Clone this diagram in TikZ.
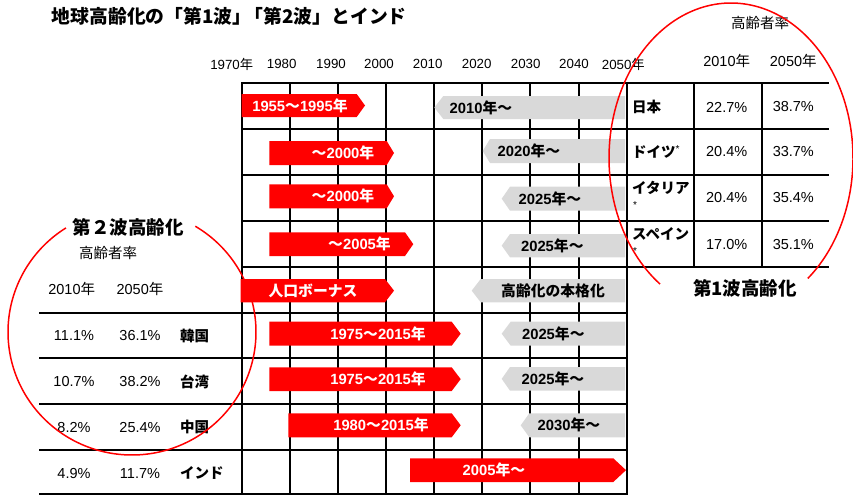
\documentclass[tikz,border=0pt]{standalone}
\usepackage{fontspec}
\setmainfont{Liberation Sans}
\newfontfamily\cjk{Noto Sans CJK JP}
\newcommand\J[1]{{\cjk #1}}
\definecolor{barGray}{HTML}{D9D9D9}
\newcommand\RB[5]{\fill[red] (#1,#4) -- (#2,#4) -- (#3,{(#4+#5)/2}) -- (#2,#5) -- (#1,#5) -- cycle;}
\newcommand\GB[5]{\fill[barGray] (#1,{(#4+#5)/2}) -- (#2,#4) -- (#3,#4) -- (#3,#5) -- (#2,#5) -- cycle;}
\begin{document}
\begin{tikzpicture}[x=1pt,y=-1pt,
  gridline/.style={line width=2pt,black,line cap=rect},
  oval/.style={red,line width=1.5pt},
  wt/.style={text=white,font=\bfseries\fontsize{14.8}{16}\selectfont,inner sep=0pt},
  bt/.style={text=black,font=\bfseries\fontsize{14.8}{16}\selectfont,inner sep=0pt},
  yr/.style={font=\fontsize{13.3}{15}\selectfont,inner sep=0pt},
  val/.style={font=\fontsize{14.5}{17}\selectfont,inner sep=0pt},
  cname/.style={font=\bfseries\fontsize{14.5}{17}\selectfont,anchor=west,inner sep=0pt},
  head/.style={font=\bfseries\fontsize{18.5}{21}\selectfont,inner sep=0pt}]
\useasboundingbox (0,0) rectangle (853,495);
% title
\node[font=\bfseries\fontsize{18.8}{22}\selectfont,inner sep=0pt,anchor=west] (title) at (51.7,16) {\J{地球高齢化の「第1波」\kern-0.35em「第2波」とインド}};
% year axis
\node[yr] (y1970) at (231.7,64) {1970\J{年}};
\node[yr] (y1980) at (281.7,64) {1980};
\node[yr] (y1990) at (331,64) {1990};
\node[yr] (y2000) at (379,64) {2000};
\node[yr] (y2010) at (427.7,64) {2010};
\node[yr] (y2020) at (476.7,64) {2020};
\node[yr] (y2030) at (525.7,64) {2030};
\node[yr] (y2040) at (574,64) {2040};
\node[yr] (y2050) at (623.3,64) {2050\J{年}};
% grid
\foreach \k in {0,...,8} \draw[gridline] ({241.7+48.125*\k},83) -- ({241.7+48.125*\k},494);
\foreach \y in {83,129,175,221,267,312.5,358,404,450,494} \draw[gridline] (241.7,\y) -- (626.7,\y);
% right table
\foreach \y in {83,129,175,221,267} \draw[gridline] (626.7,\y) -- (828,\y);
\foreach \x in {694.3,761.7} \draw[gridline] (\x,83) -- (\x,267);
% left table
\foreach \y in {312.5,358,404,450,494} \draw[gridline] (40,\y) -- (241.7,\y);
% bars
\RB{241.7}{356.7}{365}{94}{117}
\GB{434.3}{443.3}{625}{96}{119}
\RB{269.3}{386.7}{394}{141}{165}
\GB{482.7}{490}{625}{139}{163}
\RB{269.3}{386.7}{394}{184.3}{208.3}
\GB{501.7}{510}{625}{186.7}{210.7}
\RB{269.3}{405}{413.3}{232.3}{256}
\GB{501.7}{510}{625}{234}{257.3}
\RB{240.7}{385}{394}{279}{302.3}
\GB{471.7}{480.7}{625}{279}{302.3}
\RB{269.3}{451.7}{460.7}{321.7}{345.7}
\GB{501.7}{510.7}{625}{321.7}{345.7}
\RB{269.3}{451.7}{460.7}{367.3}{391}
\GB{501.7}{510}{625}{367}{390.7}
\RB{288.3}{451.7}{460.7}{413.3}{437.3}
\GB{520.7}{529.3}{625}{413.3}{437.3}
\RB{410}{613.3}{626}{458.3}{482}
% bar labels
\node[wt] (r1) at (300,105.5) {1955\J{～}1995\J{年}};
\node[bt] (g1) at (481,107.5) {2010\J{年～}};
\node[wt] (r2) at (343,153) {\J{～}2000\J{年}};
\node[bt] (g2) at (529,151) {2020\J{年～}};
\node[wt] (r3) at (343,196) {\J{～}2000\J{年}};
\node[bt] (g3) at (550,198.7) {2025\J{年～}};
\node[wt] (r4) at (359.5,244) {\J{～}2005\J{年}};
\node[bt] (g4) at (552.3,245.7) {2025\J{年～}};
\node[wt] (r5) at (313,290.7) {\J{人口ボーナス}};
\node[bt] (g5) at (553,290.7) {\J{高齢化の本格化}};
\node[wt] (r6) at (378,333.7) {1975\J{～}2015\J{年}};
\node[bt] (g6) at (553.3,333.7) {2025\J{年～}};
\node[wt] (r7) at (378,379) {1975\J{～}2015\J{年}};
\node[bt] (g7) at (553,379) {2025\J{年～}};
\node[wt] (r8) at (381,425.3) {1980\J{～}2015\J{年}};
\node[bt] (g8) at (569,425.3) {2030\J{年～}};
\node[wt] (r9) at (494,470) {2005\J{年～}};
% right table text
\node[val] (rh) at (760,23) {\J{高齢者率}};
\node[val] (rh1) at (726.7,61) {2010\J{年}};
\node[val] (rh2) at (793.3,61) {2050\J{年}};
\node[cname] (jp) at (632,107) {\J{日本}};
\node[cname] (de) at (632,152) {\J{ドイツ}\textsuperscript{\normalfont *}};
\node[cname] (it) at (632,188) {\J{イタリア}};
\node[font=\fontsize{10}{10}\selectfont,inner sep=0pt] (its) at (635,205) {*};
\node[cname] (es) at (632,234) {\J{スペイン}};
\node[font=\fontsize{10}{10}\selectfont,inner sep=0pt] (ess) at (635,251) {*};
\node[val] (jp1) at (726.7,107) {22.7\%};
\node[val] (jp2) at (793.3,107) {38.7\%};
\node[val] (de1) at (726.7,152) {20.4\%};
\node[val] (de2) at (793.3,152) {33.7\%};
\node[val] (it1) at (726.7,198) {20.4\%};
\node[val] (it2) at (793.3,198) {35.4\%};
\node[val] (es1) at (726.7,245) {17.0\%};
\node[val] (es2) at (793.3,245) {35.1\%};
\node[head] (wave1) at (745,288) {\J{第1波高齢化}};
% left table text
\node[head] (wave2) at (128,227) {\J{第２波高齢化}};
\node[val] (lh) at (108,253) {\J{高齢者率}};
\node[val] (lh1) at (71.7,289.3) {2010\J{年}};
\node[val] (lh2) at (140,289.3) {2050\J{年}};
\node[val] (kr1) at (74,336) {11.1\%};
\node[val] (kr2) at (140,336) {36.1\%};
\node[cname] (kr) at (180,336) {\J{韓国}};
\node[val] (tw1) at (74,381.5) {10.7\%};
\node[val] (tw2) at (140,381.5) {38.2\%};
\node[cname] (tw) at (180,381.5) {\J{台湾}};
\node[val] (cn1) at (74,427.3) {8.2\%};
\node[val] (cn2) at (140,427.3) {25.4\%};
\node[cname] (cn) at (180,427.3) {\J{中国}};
\node[val] (in1) at (74,473.3) {4.9\%};
\node[val] (in2) at (140,473.3) {11.7\%};
\node[cname] (in) at (180,473.3) {\J{インド}};
% ovals
\draw[oval,shift={(731,158)}] plot[domain=125.6:411,samples=120,smooth] ({122*cos(\x)},{155*sin(\x)});
\draw[oval,shift={(132,332)}] plot[domain=-59.3:237.8,samples=120,smooth] ({124*cos(\x)},{123*sin(\x)});
\end{tikzpicture}
\end{document}
